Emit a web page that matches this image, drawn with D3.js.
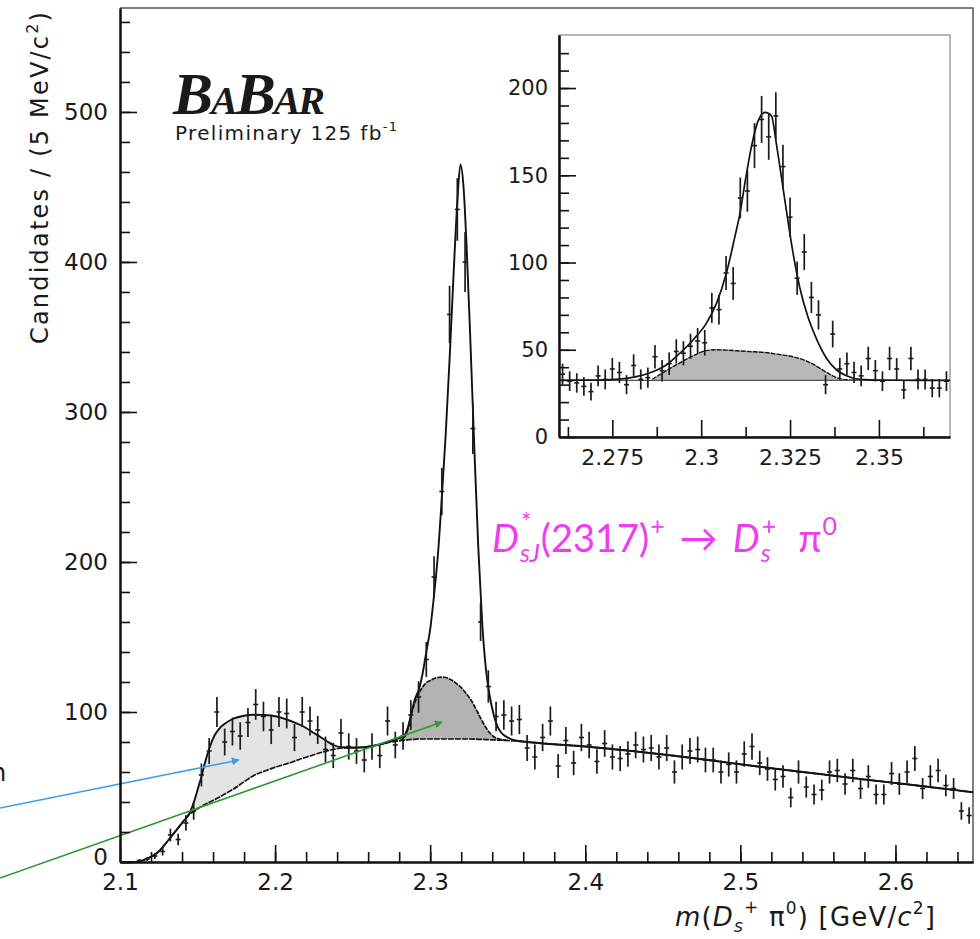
<!DOCTYPE html>
<html><head><meta charset="utf-8">
<script src="https://cdn.jsdelivr.net/npm/d3@7"></script>
<style>
body{margin:0;background:#fff}
svg text{font-family:"DejaVu Sans",sans-serif;fill:#1a1a1a}
</style>
</head><body>
<svg id="chart" width="980" height="939"></svg>
<script>
// ---------------- DATA ----------------
// main histogram: 5 MeV bins from 2.100 GeV
const mainBinStart = 2.1, mainBinWidth = 0.005;
const mainCounts = [
  0,0,1,2,4,7,18,15,26,34,
  58,74,100,80,87,84,93,105,97,88,
  100,99,83,100,94,88,75,71,86,77,
  74,68,77,71,94,78,84,98,110,135,
  190,247,365,435,400,289,160,117,97,98,
  94,95,76,70,83,94,64,81,66,83,
  78,67,79,70,69,72,78,75,76,70,
  76,60,70,74,75,68,68,60,65,60,
  72,77,66,62,55,57,43,60,50,45,
  48,60,61,52,61,49,57,45,45,59,
  52,60,69,49,57,61,51,49,34,31];

// fit curves of the main plot
const fitX = [2.100,2.105,2.110,2.113,2.117,2.120,2.125,2.130,2.135,2.140,2.145,2.148,2.150,2.1525,2.155,2.158,2.161,2.1645,2.168,2.173,2.180,2.186,2.193,2.201,2.206,2.212,2.216,2.2205,2.225,2.229,2.2335,2.2375,2.243,2.250,2.257,2.2635,2.270,2.276,2.280,2.283,2.286,2.288,2.290,2.293,2.295,2.2975,2.300,2.3025,2.305,2.3075,2.310,2.3125,2.315,2.3175,2.3195,2.3215,2.3235,2.326,2.3285,2.331,2.3335,2.336,2.3385,2.341,2.3435,2.346,2.350,2.355,2.370,2.400,2.430,2.460,2.490,2.520,2.550,2.580,2.610,2.630,2.650];
const fitTotal = [0,0,0,0.5,2,3.5,7,13,19.5,26,33,41,48,57,67,77,84.5,89.5,92.5,95.5,97.5,98.2,98,97,95.5,93.3,91.5,89,86,83.5,80.5,78,76.5,76.2,76.5,77.5,79,81,82.5,84,91,100,108,116,125,140,155,178,205,243,285,335,390,440,465,450,410,345,275,210,160,128,110,98,90,86,83,81,79.3,77,74,70.5,66.5,62.5,58.8,55,51.5,49,46.5];
const fitBkg = [0,0,0,0.5,2,3.5,7,13,19.5,26,32,34,35.5,37,38.5,40,41.5,43.5,45.5,48.5,53.5,57.5,60.5,63.5,65,67,68.5,70,71.5,72.8,74,75,76,76.2,76.5,77.5,79,80.2,80.8,81.2,81.5,81.7,81.8,82,82,82,82,82,82,82,82,82,82,82,82,82,82,82,81.9,81.8,81.7,81.6,81.5,81.4,81.3,81.2,81,80.7,79.3,77,74,70.5,66.5,62.5,58.8,55,51.5,49,46.5];
const fitBump = [null,null,null,null,null,null,null,null,null,null,null,null,null,null,null,null,null,null,null,null,null,null,null,null,null,null,null,null,null,null,null,null,null,null,null,null,null,null,80.8,82.5,90,99,106,113,116.5,119.5,121,122.3,123,123.2,123,122,120.5,118.5,116.8,114.5,112,108.5,104,99,94,89.5,86,83.5,82.3,81.6,81,null,null,null,null,null,null,null,null,null,null,null,null];

// inset histogram: 2 MeV bins from 2.260 GeV
const insetBinStart = 2.26, insetBinWidth = 0.002;
const insetCounts = [
  36,32,31,29,26,35,33,39,37,30,
  41,33,34,46,38,42,49,48,52,55,
  54,74,73,94,88,137,141,167,182,172,
  184,155,126,91,106,80,70,30,59,39,
  42,37,35,45,38,32,45,39,27,45,
  33,33,28,28,32];
const insetFitX = [2.260,2.270,2.276,2.2818,2.2862,2.2902,2.294,2.2977,2.3014,2.3043,2.3071,2.3095,2.3109,2.3125,2.3142,2.316,2.318,2.3198,2.321,2.3225,2.3244,2.3258,2.3277,2.330,2.3325,2.3353,2.3381,2.341,2.345,2.350,2.360,2.370];
const insetFitTotal = [32.5,32.6,33,34.6,37.3,41.3,48,55.6,65,76.6,94,115,128,148,167,181,186,184,170,150,124,106,86,69,56,45,38.4,35,33,32.6,32.5,32.5];
const insetFitBkg = [32.5,32.5,32.5,32.5,32.5,32.5,32.5,32.5,32.5,32.5,32.5,32.5,32.5,32.5,32.5,32.5,32.5,32.5,32.5,32.5,32.5,32.5,32.5,32.5,32.5,32.5,32.5,32.5,32.5,32.5,32.5,32.5];
const insetFitBump = [null,null,null,null,33,38,42.5,46.5,49.5,50,49.8,49.5,49.3,49.1,48.9,48.7,48.4,48,47.6,47.2,46.6,46,45,43.2,40.5,37,34,32.8,32.5,null,null,null];

// tick labels
const mainXTicks = [2.1,2.2,2.3,2.4,2.5,2.6];
const mainYTicks = [0,100,200,300,400,500];
const insetXTicks = [2.275,2.3,2.325,2.35];
const insetYTicks = [0,50,100,150,200];

// ---------------- DRAW ----------------
const svg = d3.select("#chart");
svg.append("rect").attr("width",980).attr("height",939).attr("fill","#fff");

const x = d3.scaleLinear().domain([2.1,2.65]).range([120,973]);
const y = d3.scaleLinear().domain([0,569.3]).range([862,8]);
const xi = d3.scaleLinear().domain([2.26,2.37]).range([559,950]);
const yi = d3.scaleLinear().domain([0,230.4]).range([437,35]);

svg.append("path").attr("d",`M${x(2.1)},${y(569.3)}H${x(2.65)}V${y(0)}`)
  .attr("fill","none").attr("stroke","#555").attr("stroke-width",1.5);

const defs = svg.append("defs");
function marker(id,color){
  defs.append("marker").attr("id",id).attr("viewBox","0 0 10 10").attr("refX",9).attr("refY",5)
    .attr("markerWidth",5).attr("markerHeight",5).attr("orient","auto")
    .append("path").attr("d","M0,0L10,5L0,10z").attr("fill",color);
}
marker("ab","#3a9ff0"); marker("ag","#2e9a2e");

const idx = d3.range(fitX.length);
const reflArea = d3.area().curve(d3.curveMonotoneX)
  .defined(i => fitTotal[i] - fitBkg[i] > 0.1 && fitX[i] < 2.27)
  .x(i => x(fitX[i])).y0(i => y(fitBkg[i])).y1(i => y(fitTotal[i]));
svg.append("path").attr("d",reflArea(idx)).attr("fill","#e4e4e4");
const bumpArea = d3.area().curve(d3.curveMonotoneX)
  .defined(i => fitBump[i] != null)
  .x(i => x(fitX[i])).y0(i => y(fitBkg[i])).y1(i => y(fitBump[i]));
svg.append("path").attr("d",bumpArea(idx)).attr("fill","#b3b3b3");

const lineOf = (arr, xs, ys) => d3.line().curve(d3.curveMonotoneX)
  .defined(i => arr[i] != null).x(i => xs(i)).y(i => ys(arr[i]));

svg.append("path").attr("d",lineOf(fitBump, i=>x(fitX[i]), y)(idx))
  .attr("fill","none").attr("stroke","#111").attr("stroke-width",1.7).attr("stroke-dasharray","5,1");
svg.append("path").attr("d",lineOf(fitBkg, i=>x(fitX[i]), y)(idx))
  .attr("fill","none").attr("stroke","#111").attr("stroke-width",1.7).attr("stroke-dasharray","6,1");
svg.append("path").attr("d",lineOf(fitTotal, i=>x(fitX[i]), y)(idx))
  .attr("fill","none").attr("stroke","#111").attr("stroke-width",1.9);

function drawPoints(g, counts, start, width, xs, ys, half){
  counts.forEach((n,i) => {
    if (n <= 0) return;
    const c = start + width*(i+0.5);
    const e = Math.sqrt(n);
    g.append("line").attr("x1",xs(c)).attr("x2",xs(c)).attr("y1",ys(n-e)).attr("y2",ys(n+e))
      .attr("stroke","#1a1a1a").attr("stroke-width",1.7);
    g.append("line").attr("x1",xs(c)-half).attr("x2",xs(c)+half).attr("y1",ys(n)).attr("y2",ys(n))
      .attr("stroke","#1a1a1a").attr("stroke-width",1.6);
  });
}
drawPoints(svg.append("g"), mainCounts, mainBinStart, mainBinWidth, x, y, 2.5);

// arrows and cut-off side label
svg.append("line").attr("x1",0).attr("y1",808).attr("x2",239).attr("y2",760)
  .attr("stroke","#3a9ff0").attr("stroke-width",1.6).attr("marker-end","url(#ab)");
svg.append("line").attr("x1",0).attr("y1",878).attr("x2",442).attr("y2",722)
  .attr("stroke","#2e9a2e").attr("stroke-width",1.6).attr("marker-end","url(#ag)");
svg.append("text").attr("x",-9).attr("y",781).attr("font-size",24).text("n");

function styleAxis(g){
  g.select(".domain").attr("stroke","#111").attr("stroke-width",2);
  g.selectAll(".tick line").attr("stroke","#111").attr("stroke-width",1.6);
  g.selectAll("text").attr("fill","#1a1a1a").style("font-family","DejaVu Sans");
}
const gx = svg.append("g").attr("transform",`translate(0,${y(0)})`)
  .call(d3.axisBottom(x).tickValues(d3.range(2.12,2.65,0.02)).tickSize(-10).tickSizeOuter(0).tickFormat(""));
styleAxis(gx);
const gx2 = svg.append("g").attr("transform",`translate(0,${y(0)})`)
  .call(d3.axisBottom(x).tickValues(mainXTicks).tickSize(-17).tickSizeOuter(0).tickPadding(12).tickFormat(d3.format(".1f")));
styleAxis(gx2); gx2.selectAll("text").attr("font-size",23);
const gy = svg.append("g").attr("transform",`translate(${x(2.1)},0)`)
  .call(d3.axisLeft(y).tickValues(d3.range(0,569,20)).tickSize(-10).tickSizeOuter(0).tickFormat(""));
styleAxis(gy);
const gy2 = svg.append("g").attr("transform",`translate(${x(2.1)},0)`)
  .call(d3.axisLeft(y).tickValues(mainYTicks).tickSize(-17).tickSizeOuter(0).tickPadding(12));
styleAxis(gy2); gy2.selectAll("text").attr("font-size",23);
gy2.selectAll(".tick").filter(d => d === 0).select("text").attr("dy","0.1em");

// axis titles
const yt = svg.append("text").attr("transform","translate(48,178) rotate(-90)")
  .attr("text-anchor","middle").attr("font-size",24)
  .attr("textLength",332).attr("lengthAdjust","spacing");
yt.append("tspan").text("Candidates / (5 MeV/c");
yt.append("tspan").attr("dy",-10).attr("font-size",16).text("2");
yt.append("tspan").attr("dy",10).text(")");

const xt = svg.append("text").attr("x",675).attr("y",926).attr("font-size",26)
  .attr("textLength",260).attr("lengthAdjust","spacing");
xt.append("tspan").attr("font-style","italic").text("m");
xt.append("tspan").text("(");
xt.append("tspan").attr("font-style","italic").text("D");
xt.append("tspan").attr("font-size",17).attr("dy",6).attr("font-style","italic").text("s");
xt.append("tspan").attr("font-size",17).attr("dy",-19).text("+");
xt.append("tspan").attr("dy",13).text(" π");
xt.append("tspan").attr("font-size",17).attr("dy",-12).text("0");
xt.append("tspan").attr("dy",12).text(") [GeV/");
xt.append("tspan").attr("font-style","italic").text("c");
xt.append("tspan").attr("font-size",17).attr("dy",-12).text("2");
xt.append("tspan").attr("dy",12).text("]");

// BaBar logo
const logo = svg.append("text").attr("x",173).attr("y",114)
  .style("font-family","'Liberation Serif',serif").attr("font-weight","bold").attr("font-style","italic")
  .attr("textLength",152).attr("lengthAdjust","spacing");
logo.append("tspan").attr("font-size",60).text("B");
logo.append("tspan").attr("font-size",40).text("A");
logo.append("tspan").attr("font-size",60).text("B");
logo.append("tspan").attr("font-size",40).text("AR");
const pre = svg.append("text").attr("x",175).attr("y",140).attr("font-size",20)
  .attr("textLength",222).attr("lengthAdjust","spacing");
pre.append("tspan").text("Preliminary 125 fb");
pre.append("tspan").attr("dy",-9).attr("font-size",13).text("-1");

// annotation (laid out piece by piece)
const annX0 = 492, annY = 552, S = 38, s = 25;
const annGaps = [14, 14, 22];
const annPieces = [
  {t:"D", sz:S, dy:0, it:true},
  {t:"sJ", sz:s, dy:10, it:true, stack:true},
  {t:"*", sz:s, dy:-21},
  {t:"(2317)", sz:S, dy:0},
  {t:"+", sz:s, dy:-17},
  {gap:0},
  {t:"→", sz:S, dy:0},
  {gap:1},
  {t:"D", sz:S, dy:0, it:true},
  {t:"s", sz:s, dy:10, it:true, stack:true},
  {t:"+", sz:s, dy:-17},
  {gap:2},
  {t:"π", sz:S, dy:0},
  {t:"0", sz:s, dy:-17}
];
const annG = svg.append("g");
annPieces.forEach(p => {
  if (p.gap !== undefined) return;
  p.el = annG.append("text").attr("y",annY+p.dy).attr("font-size",p.sz)
    .attr("font-style",p.it?"italic":"normal")
    .style("font-family","Lato, 'Open Sans', sans-serif").style("fill","#ee3cee").text(p.t);
  p.w = p.el.node().getComputedTextLength();
});
let cx = annX0;
for (let k=0;k<annPieces.length;k++){
  const p = annPieces[k];
  if (p.gap !== undefined){ cx += annGaps[p.gap]; continue; }
  if (p.stack){
    const q = annPieces[k+1];
    p.el.attr("x",cx); q.el.attr("x",cx+1);
    cx += Math.max(p.w,q.w)+1; k++;
  } else { p.el.attr("x",cx); cx += p.w + 1; }
}

// ---------------- INSET ----------------
const ins = svg.append("g");
ins.append("rect").attr("x",559).attr("y",35).attr("width",391).attr("height",402)
  .attr("fill","#fff").attr("stroke","#888").attr("stroke-width",1.2);
const iidx = d3.range(insetFitX.length);
const ibump = d3.area().curve(d3.curveMonotoneX)
  .defined(i => insetFitBump[i] != null)
  .x(i => xi(insetFitX[i])).y0(i => yi(insetFitBkg[i])).y1(i => yi(insetFitBump[i]));
ins.append("path").attr("d",ibump(iidx)).attr("fill","#b8b8b8");
ins.append("path").attr("d",lineOf(insetFitBump, i=>xi(insetFitX[i]), yi)(iidx))
  .attr("fill","none").attr("stroke","#111").attr("stroke-width",1.4).attr("stroke-dasharray","5,1");
ins.append("path").attr("d",lineOf(insetFitBkg, i=>xi(insetFitX[i]), yi)(iidx))
  .attr("fill","none").attr("stroke","#555").attr("stroke-width",1.2);
ins.append("path").attr("d",lineOf(insetFitTotal, i=>xi(insetFitX[i]), yi)(iidx))
  .attr("fill","none").attr("stroke","#111").attr("stroke-width",1.7);
drawPoints(ins.append("g"), insetCounts, insetBinStart, insetBinWidth, xi, yi, 2.5);

const ix1 = ins.append("g").attr("transform",`translate(0,${yi(0)})`)
  .call(d3.axisBottom(xi).tickValues(d3.range(2.2625,2.37,0.025)).tickSize(-10).tickSizeOuter(0).tickFormat(""));
styleAxis(ix1);
const ix2 = ins.append("g").attr("transform",`translate(0,${yi(0)})`)
  .call(d3.axisBottom(xi).tickValues(insetXTicks).tickSize(-17).tickSizeOuter(0).tickPadding(12).tickFormat(d => String(+d.toFixed(3))));
styleAxis(ix2); ix2.selectAll("text").attr("font-size",22);
const iy1 = ins.append("g").attr("transform",`translate(${xi(2.26)},0)`)
  .call(d3.axisLeft(yi).tickValues(d3.range(10,230,10)).tickSize(-10).tickSizeOuter(0).tickFormat(""));
styleAxis(iy1);
const iy2 = ins.append("g").attr("transform",`translate(${xi(2.26)},0)`)
  .call(d3.axisLeft(yi).tickValues(insetYTicks).tickSize(-17).tickSizeOuter(0).tickPadding(11));
styleAxis(iy2); iy2.selectAll("text").attr("font-size",21);
</script>
</body></html>
